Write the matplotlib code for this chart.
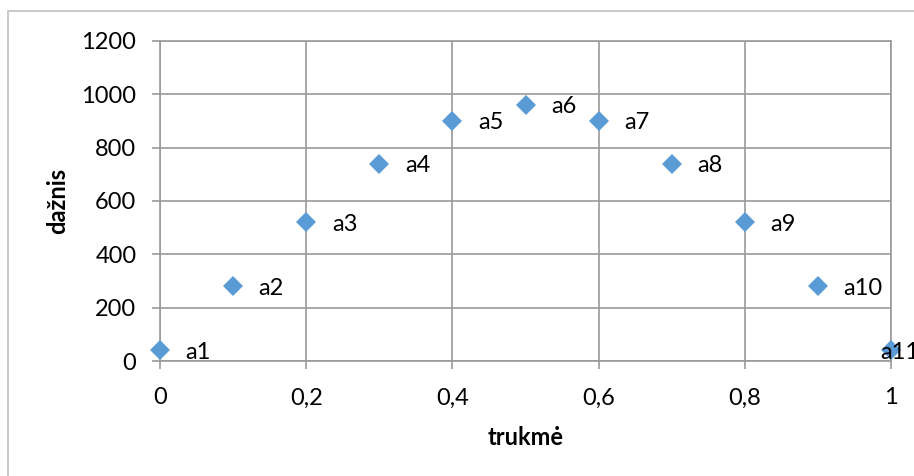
import matplotlib.pyplot as plt
from matplotlib.patches import Rectangle

plt.rcParams['font.family'] = ['Lato', 'DejaVu Sans']

trukme = [0, 0.1, 0.2, 0.3, 0.4, 0.5, 0.6, 0.7, 0.8, 0.9, 1.0]
daznis = [40, 280, 520, 740, 900, 960, 900, 740, 520, 280, 40]
zymes = ['a1', 'a2', 'a3', 'a4', 'a5', 'a6', 'a7', 'a8', 'a9', 'a10', 'a11']
x_ticks = [0, 0.2, 0.4, 0.6, 0.8, 1]
x_tick_labels = ['0', '0,2', '0,4', '0,6', '0,8', '1']
y_ticks = [0, 200, 400, 600, 800, 1000, 1200]

W, H = 914, 476
fig = plt.figure(figsize=(W / 100, H / 100), dpi=100)
ax = fig.add_axes([160 / W, 1 - 361 / H, (891 - 160) / W, (361 - 41) / H])

grid_c = '#9a9a9a'
blue = '#5b9bd5'
fs = 17

# chart frame (runs off the right and bottom edges)
fig.patches.append(Rectangle((8 / W, -0.1), 1.2, 1 - 11 / H + 0.1,
                             transform=fig.transFigure, fill=False,
                             edgecolor='#c0c0c0', linewidth=1.2))

ax.plot(trukme, daznis, linestyle='none', marker='D', markersize=9.7,
        color=blue, markeredgewidth=0, zorder=3, clip_on=False)

for x, y, z in zip(trukme, daznis, zymes):
    dx = 18.4 if z != 'a11' else -7.5
    ax.annotate(z, (x, y), xytext=(dx, 0), textcoords='offset points',
                va='center_baseline', ha='left', fontsize=fs,
                annotation_clip=False, zorder=4)

ax.set_xlim(0, 1)
ax.set_ylim(0, 1200)
ax.set_xticks(x_ticks)
ax.set_xticklabels(x_tick_labels)
ax.set_yticks(y_ticks)
ax.grid(True, color=grid_c, linewidth=1.2)
ax.set_axisbelow(True)
for s in ax.spines.values():
    s.set_color(grid_c)
    s.set_linewidth(1.2)
ax.tick_params(axis='both', colors=grid_c, labelcolor='black', labelsize=fs,
               length=6, width=1.2)
ax.tick_params(axis='x', pad=13)
ax.tick_params(axis='y', pad=11)

ax.set_xlabel('trukmė', fontsize=fs, fontweight='bold', labelpad=13)
ax.set_ylabel('dažnis', fontsize=fs, fontweight='bold', labelpad=9)

fig.savefig('out.png', dpi=100)
